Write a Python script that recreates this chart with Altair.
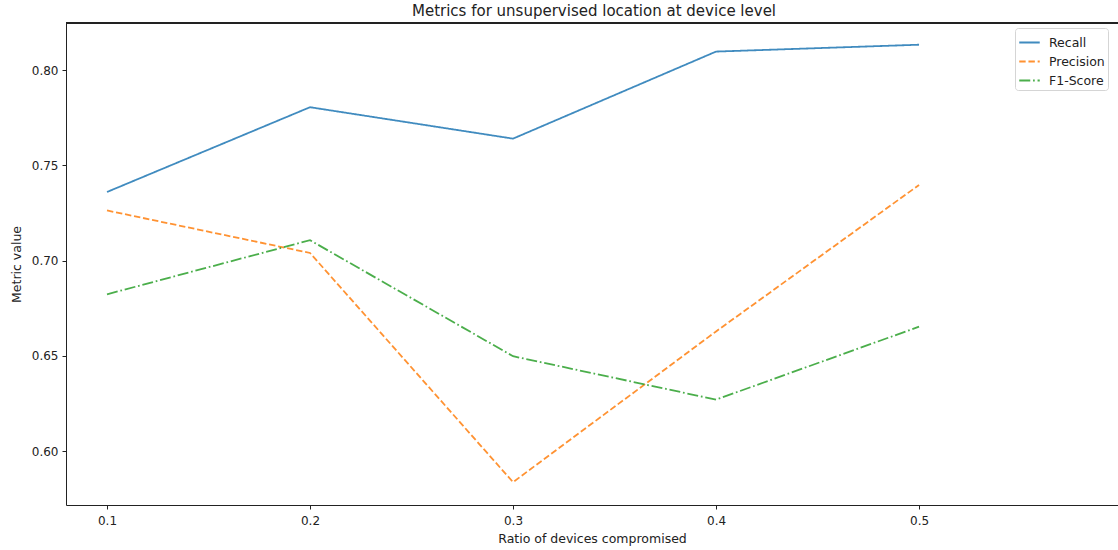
import altair as alt
import pandas as pd

ratios = [0.1, 0.2, 0.3, 0.4, 0.5]
recall = [0.736, 0.7805, 0.764, 0.8097, 0.8133]
precision = [0.7263, 0.704, 0.5837, 0.6628, 0.7397]
f1_score = [0.6823, 0.7107, 0.6498, 0.6270, 0.6653]
series_names = ["Recall", "Precision", "F1-Score"]
y_ticks = [0.60, 0.65, 0.70, 0.75, 0.80]
x_ticks = [0.1, 0.2, 0.3, 0.4, 0.5]

rows = []
for name, vals in zip(series_names, [recall, precision, f1_score]):
    for r, v in zip(ratios, vals):
        rows.append({"ratio": r, "value": v, "metric": name})
df = pd.DataFrame(rows)

W, H = 1052, 482
FONT = "DejaVu Sans"

lines = alt.Chart(df).mark_line(strokeWidth=1.8, clip=True, opacity=0.85).encode(
    x=alt.X("ratio:Q",
            scale=alt.Scale(domain=[0.0798, 0.598], nice=False, zero=False),
            axis=alt.Axis(values=x_ticks, format=".1f", title="Ratio of devices compromised",
                          grid=False, titlePadding=6, labelPadding=6)),
    y=alt.Y("value:Q",
            scale=alt.Scale(domain=[0.5717, 0.8247], nice=False, zero=False),
            axis=alt.Axis(values=y_ticks, format=".2f", title="Metric value",
                          grid=False, titlePadding=8)),
    color=alt.Color("metric:N",
                    scale=alt.Scale(domain=series_names, range=["#1f77b4", "#ff7f0e", "#2ca02c"]),
                    legend=alt.Legend(title=None, orient="none", legendX=949, legendY=5,
                                      symbolType="stroke", symbolSize=420, symbolStrokeWidth=1.8,
                                      symbolOpacity=0.85,
                                      labelFontSize=12.5, labelFont=FONT, labelColor="#222",
                                      rowPadding=1, padding=3, strokeColor="#d5d5d5",
                                      cornerRadius=3, fillColor="white",
                                      labelOffset=8)),
    strokeDash=alt.StrokeDash("metric:N",
                              scale=alt.Scale(domain=series_names,
                                              range=[[1, 0], [6.4, 2.8], [11, 2.8, 1.7, 2.8]]),
                              legend=None),
    detail="metric:N",
)

top_line = alt.Chart(df).mark_rule(color="#222", strokeWidth=1).encode(
    x=alt.value(0), x2=alt.value(W), y=alt.value(0)
)

chart = alt.layer(lines, top_line).properties(
    width=W, height=H,
    title=alt.TitleParams("Metrics for unsupervised location at device level",
                          font=FONT, fontSize=15, fontWeight="normal", color="#222",
                          anchor="middle", offset=4, dx=2),
    autosize=alt.AutoSizeParams(type="none"),
    padding={"left": 66, "top": 23, "right": 0, "bottom": 45},
).configure_view(stroke=None).configure_axis(
    labelFont=FONT, titleFont=FONT, labelFontSize=12, titleFontSize=12.5,
    labelColor="#222", titleColor="#222", titleFontWeight="normal",
    domainColor="#222", domainWidth=1, tickColor="#222", tickSize=4, labelPadding=4,
)

chart.save("out.html", embed_options={"renderer": "svg", "actions": False})
